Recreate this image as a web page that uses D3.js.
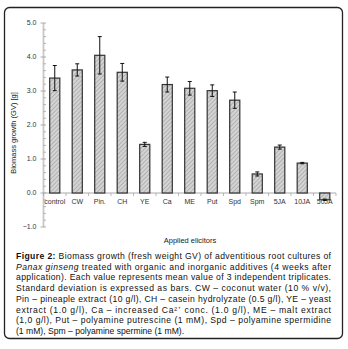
<!DOCTYPE html>
<html>
<head>
<meta charset="utf-8">
<script src="https://cdn.jsdelivr.net/npm/d3@7"></script>
<style>
  body { margin: 0; background: #fff; }
  svg text { font-family: "Liberation Sans", Arial, sans-serif; }
</style>
</head>
<body>
<div id="chart"></div>
<script>
// Biomass growth chart + caption

const categories = ["control", "CW", "Pin.", "CH", "YE", "Ca", "ME", "Put", "Spd", "Spm", "5JA", "10JA", "50JA"];
const means = [3.38, 3.62, 4.05, 3.55, 1.43, 3.19, 3.08, 3.01, 2.73, 0.56, 1.35, 0.88, -0.2];
const errors = [0.37, 0.18, 0.55, 0.26, 0.06, 0.22, 0.2, 0.17, 0.24, 0.06, 0.06, 0.02, 0.02];
const yTicks = [-1, 0, 1, 2, 3, 4, 5];

const captionLines = [
  [["Figure 2: ", "b"], ["Biomass growth (fresh weight GV) of adventitious root cultures of", ""]],
  [["Panax ginseng", "i"], [" treated with organic and inorganic additives (4 weeks after", ""]],
  [["application). Each value represents mean value of 3 independent triplicates.", ""]],
  [["Standard deviation is expressed as bars. CW – coconut water (10 % v/v),", ""]],
  [["Pin – pineaple extract (10 g/l), CH – casein hydrolyzate (0.5 g/l), YE – yeast", ""]],
  [["extract (1.0 g/l), Ca – increased Ca²⁺ conc. (1.0 g/l), ME – malt extract", ""]],
  [["(1,0 g/l), Put – polyamine putrescine (1 mM), Spd – polyamine spermidine", ""]],
  [["(1 mM), Spm – polyamine spermine (1 mM).", ""]]
];

const W = 348, H = 349;
const svg = d3.select("#chart").append("svg").attr("width", W).attr("height", H);

// hatch pattern
const defs = svg.append("defs");
const pat = defs.append("pattern")
  .attr("id", "hatch").attr("patternUnits", "userSpaceOnUse")
  .attr("width", 3).attr("height", 3)
  .attr("patternTransform", "rotate(45)");
pat.append("rect").attr("width", 3).attr("height", 3).attr("fill", "#d4d4d4");
pat.append("line").attr("x1", 0).attr("y1", 0).attr("x2", 0).attr("y2", 3)
  .attr("stroke", "#9a9a9a").attr("stroke-width", 1.2);

// frame
svg.append("rect")
  .attr("x", 4.5).attr("y", 7.5).attr("width", 338).attr("height", 331)
  .attr("rx", 5).attr("fill", "none").attr("stroke", "#222").attr("stroke-width", 1.3);

const left = 43.5, right = 336;
const x = d3.scaleBand().domain(categories).range([left, right]).paddingInner(0.55).paddingOuter(0.275);
const y = d3.scaleLinear().domain([-1, 5]).range([227, 23]);

const g = svg.append("g");

// y axis
const yAxis = g.append("g").attr("transform", `translate(${left},0)`);
yAxis.append("line").attr("x1", 0).attr("x2", 0).attr("y1", y(5)).attr("y2", y(-1))
  .attr("stroke", "#c8c8c8").attr("stroke-width", 1.8);
const minor = d3.range(-1, 5.001, 0.2).filter(v => Math.abs(v - Math.round(v)) > 1e-6);
yAxis.selectAll("line.minor").data(minor).join("line").attr("class", "minor")
  .attr("x1", 0).attr("x2", 2.5).attr("y1", d => y(d)).attr("y2", d => y(d))
  .attr("stroke", "#999").attr("stroke-width", 0.7);
yAxis.selectAll("line.major").data(yTicks).join("line").attr("class", "major")
  .attr("x1", -3).attr("x2", 2.5).attr("y1", d => y(d)).attr("y2", d => y(d))
  .attr("stroke", "#999").attr("stroke-width", 0.8);
yAxis.selectAll("text").data(yTicks).join("text")
  .attr("x", -7).attr("y", d => y(d)).attr("dy", "0.35em")
  .attr("text-anchor", "end").attr("font-size", 7).attr("fill", "#333")
  .text(d => d3.format(".1f")(d));

// x axis at 0
const xAxis = g.append("g").attr("transform", `translate(0,${y(0)})`);
xAxis.append("line").attr("x1", left).attr("x2", right).attr("stroke", "#aaa").attr("stroke-width", 1);
const step = x.step();
xAxis.selectAll("line.tk").data(d3.range(categories.length + 1)).join("line").attr("class", "tk")
  .attr("x1", i => left + i * step).attr("x2", i => left + i * step)
  .attr("y1", 0).attr("y2", 3).attr("stroke", "#aaa").attr("stroke-width", 0.8);
xAxis.selectAll("text").data(categories).join("text")
  .attr("x", d => x(d) + x.bandwidth() / 2).attr("y", 10.5)
  .attr("text-anchor", "middle").attr("font-size", 7).attr("fill", "#333")
  .text(d => d);

// bars
g.selectAll("rect.bar").data(categories).join("rect").attr("class", "bar")
  .attr("x", d => x(d)).attr("width", x.bandwidth())
  .attr("y", (d, i) => y(Math.max(0, means[i])))
  .attr("height", (d, i) => Math.abs(y(means[i]) - y(0)))
  .attr("fill", "url(#hatch)").attr("stroke", "#333").attr("stroke-width", 1.2);

// error bars
const eb = g.selectAll("g.err").data(categories).join("g").attr("class", "err");
eb.append("line")
  .attr("x1", d => x(d) + x.bandwidth() / 2).attr("x2", d => x(d) + x.bandwidth() / 2)
  .attr("y1", (d, i) => y(means[i] + errors[i])).attr("y2", (d, i) => y(means[i] - errors[i]))
  .attr("stroke", "#111").attr("stroke-width", 1);
[1, -1].forEach(s => {
  eb.append("line")
    .attr("x1", d => x(d) + x.bandwidth() / 2 - 2).attr("x2", d => x(d) + x.bandwidth() / 2 + 2)
    .attr("y1", (d, i) => y(means[i] + s * errors[i])).attr("y2", (d, i) => y(means[i] + s * errors[i]))
    .attr("stroke", "#111").attr("stroke-width", 1);
});

// axis titles
svg.append("text").attr("transform", `translate(16,133) rotate(-90)`)
  .attr("text-anchor", "middle").attr("font-size", 7.5).attr("fill", "#222")
  .text("Biomass growth (GV) [g]");
svg.append("text").attr("x", 190).attr("y", 243)
  .attr("text-anchor", "middle").attr("font-size", 7.5).attr("fill", "#222")
  .text("Applied elicitors");

// caption (justified)
const capLeft = 16, capRight = 331, lineH = 10.7, capTop = 259;
captionLines.forEach((parts, li) => {
  const t = svg.append("text").attr("x", capLeft).attr("y", capTop + li * lineH)
    .attr("font-size", 8.6).attr("fill", "#111");
  parts.forEach(([s, st]) => {
    t.append("tspan").text(s)
      .attr("font-weight", st === "b" ? "bold" : null)
      .attr("font-style", st === "i" ? "italic" : null);
  });
  if (li < captionLines.length - 1) {
    t.attr("textLength", capRight - capLeft).attr("lengthAdjust", "spacing");
  }
});
</script>
</body>
</html>
